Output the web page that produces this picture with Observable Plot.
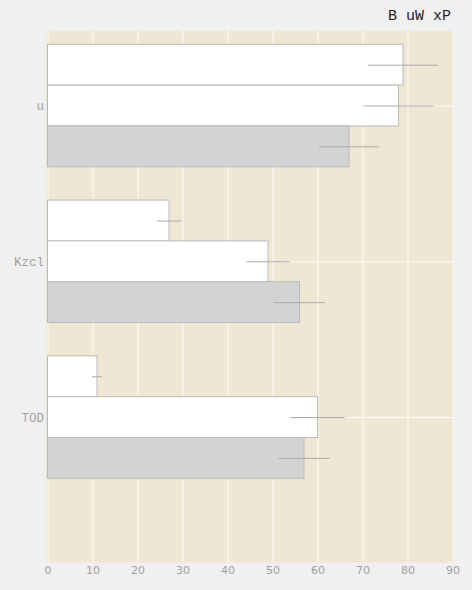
<!DOCTYPE html>
<html>
<head>
<meta charset="utf-8">
<script src="https://cdn.jsdelivr.net/npm/d3@7"></script>
<script src="https://cdn.jsdelivr.net/npm/@observablehq/plot@0.6"></script>
<style>
  html, body { margin: 0; padding: 0; background: #f0f0f0; }
  #wrap { position: relative; width: 472px; height: 590px; }
  #legend { position: absolute; top: 8px; right: 21px; font: 15px "Liberation Mono", "DejaVu Sans Mono", monospace; color: #222; }
</style>
</head>
<body>
<div id="wrap"><div id="legend">B uW xP</div></div>
<script>
const categories = ["u", "Kzcl", "TOD"];
const series = ["B", "uW", "xP"];
const valuesB  = [79, 27, 11];
const valuesUW = [78, 49, 60];
const valuesXP = [67, 56, 57];
const errB  = [7.8, 2.7, 1.1];
const errUW = [7.8, 4.8, 6.0];
const errXP = [6.7, 5.6, 5.7];
const colors = ["#ffffff", "#ffffff", "#d3d3d3"];
const xTicks = [0, 10, 20, 30, 40, 50, 60, 70, 80, 90];

const seriesValues = [valuesB, valuesUW, valuesXP];
const seriesErrors = [errB, errUW, errXP];

const rows = [];
series.forEach((s, j) => categories.forEach((c, i) => {
  rows.push({category: c, series: s, j, value: seriesValues[j][i], err: seriesErrors[j][i]});
}));

// band layout
const r0 = 44.3, r1 = 478.3, pInner = 0.214;
const step = (r1 - r0) / (categories.length - pInner);
const bw = step * (1 - pInner);
const third = bw / 3;

const marks = [
  Plot.frame({fill: "#efe6d4", stroke: null, insetLeft: -2, insetRight: -1}),
  Plot.gridX({ticks: xTicks, stroke: "#ffffff", strokeOpacity: 0.9, strokeWidth: 1}),
  Plot.gridY({stroke: "#ffffff", strokeOpacity: 0.9, strokeWidth: 1})
];
series.forEach((s, j) => {
  const d = rows.filter(r => r.series === s);
  marks.push(Plot.barX(d, {
    x: "value", y: "category",
    fill: colors[j], stroke: "#bababa", strokeWidth: 1,
    insetTop: j * third, insetBottom: (2 - j) * third
  }));
  marks.push(Plot.ruleY(d, {
    y: "category", x1: r => r.value - r.err, x2: r => r.value + r.err,
    stroke: "#aaaaaa", strokeWidth: 1, dy: (j - 1) * third
  }));
});

const chart = Plot.plot({
  width: 472, height: 590,
  marginTop: 30, marginBottom: 28, marginLeft: 47.5, marginRight: 19.5,
  style: {background: "transparent", fontFamily: "'DejaVu Sans', sans-serif", fontSize: "11px"},
  x: {domain: [0, 90], ticks: xTicks, tickSize: 0, tickPadding: 4, label: null},
  y: {domain: categories, range: [r0, r1], paddingInner: pInner, paddingOuter: 0, round: false, tickSize: 0, tickPadding: 4, label: null},
  marks: [
    ...marks,
    Plot.axisX({ticks: xTicks, tickSize: 0, tickPadding: 4, color: "#a0a0a0", label: null, fontSize: 11}),
    Plot.axisY({tickSize: 0, tickPadding: 4, color: "#a0a0a0", label: null, fontFamily: "'Liberation Mono', 'DejaVu Sans Mono', monospace", fontSize: 12.5})
  ]
});
document.getElementById("wrap").appendChild(chart);
</script>
</body>
</html>
